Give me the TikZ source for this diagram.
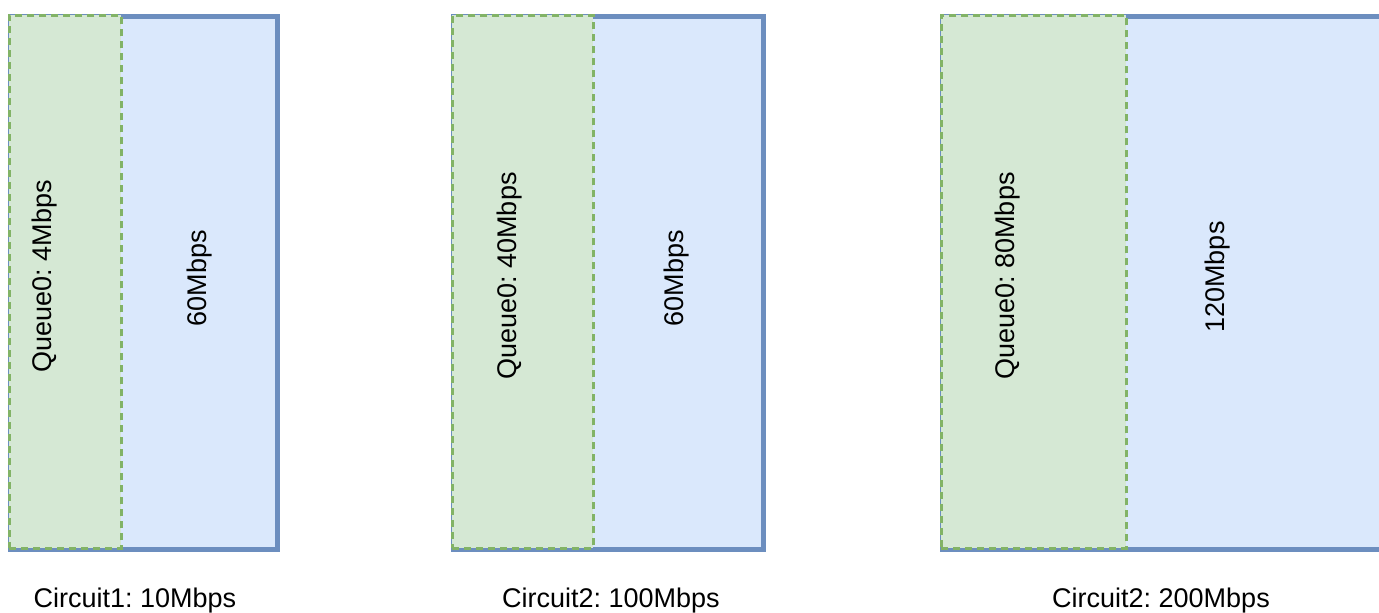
\documentclass[tikz,border=0pt]{standalone}
\usepackage{fontspec}
\setmainfont{Liberation Sans}
\frenchspacing
\usetikzlibrary{positioning}
\definecolor{boxblue}{HTML}{DAE8FC}
\definecolor{lineblue}{HTML}{6C8EBF}
\definecolor{boxgreen}{HTML}{D5E8D4}
\definecolor{linegreen}{HTML}{82B366}
\tikzset{circuit box/.style={rectangle,fill=boxblue,draw=lineblue,line width=5pt,inner sep=0pt,minimum height=533pt,anchor=north west},
queue box/.style={rectangle,fill=boxgreen,draw=linegreen,line width=2.5pt,dash pattern=on 7pt off 5pt,inner sep=0pt,minimum height=533pt,anchor=north west},
rate label/.style={rotate=90,inner sep=0pt,font=\fontsize{27}{31}\selectfont},
circuit label/.style={inner sep=0pt,font=\fontsize{27}{31}\selectfont},}

\begin{document}
\begin{tikzpicture}[x=1pt,y=-1pt]
       \useasboundingbox (0,0) rectangle (1379,613);

       \node[circuit box, minimum width=267pt] (c1) at (7.5,13.5) {};
       \node[queue box, minimum width=112pt] (q1) at (8,14) {};
       \node[rate label] (q1t) at (45,276) {Queue0: 4Mbps};
       \node[rate label] (r1) at (200,278) {60Mbps};
       \node[circuit label] (l1) at (135,601) {Circuit1: 10Mbps};

       \node[circuit box, minimum width=310pt] (c2) at (450.5,13.5) {};
       \node[queue box, minimum width=141pt] (q2) at (451,14) {};
       \node[rate label] (q2t) at (510,276) {Queue0: 40Mbps};
       \node[rate label] (r2) at (677,278) {60Mbps};
       \node[circuit label] (l2) at (611,601) {Circuit2: 100Mbps};

       \node[circuit box, minimum width=460pt] (c3) at (939.5,13.5) {};
       \node[queue box, minimum width=185pt] (q3) at (940,14) {};
       \node[rate label] (q3t) at (1008,276) {Queue0: 80Mbps};
       \node[rate label] (r3) at (1218,277) {120Mbps};
       \node[circuit label] (l3) at (1161,601) {Circuit2: 200Mbps};
    \end{tikzpicture}
\end{document}
